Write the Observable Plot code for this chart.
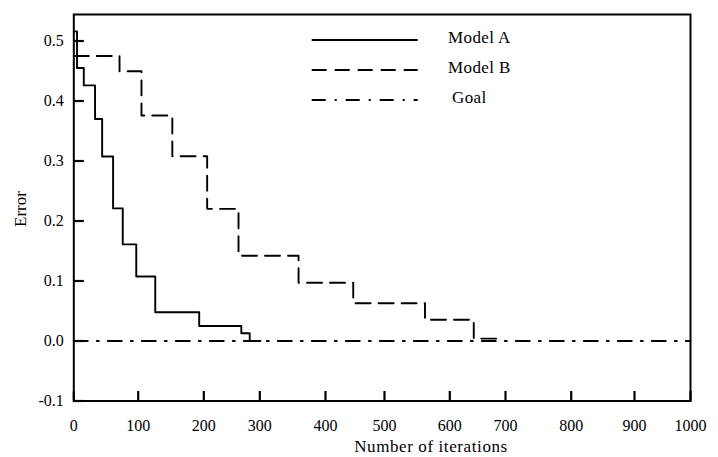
<!DOCTYPE html>
<html>
<head>
<meta charset="utf-8">
<script src="https://cdn.jsdelivr.net/npm/d3@7"></script>
<script src="https://cdn.jsdelivr.net/npm/@observablehq/plot@0.6"></script>
<style>
  html, body { margin: 0; padding: 0; background: #fff; }
  #chart { position: relative; width: 718px; height: 457px; }
</style>
</head>
<body>
<div id="chart"></div>
<script>
// ---------- Data ----------
const seriesNames = ["Model A", "Model B", "Goal"];
const modelAIter  = [0, 5, 15.5, 33, 44, 61, 76, 97, 126, 193, 267, 282, 301];
const modelAError = [0.516, 0.455, 0.426, 0.370, 0.3075, 0.221, 0.161, 0.1075, 0.048, 0.025, 0.013, 0.0, 0.0];
const modelBIter  = [0, 71, 105, 152, 206, 262, 359, 447, 562, 643, 687];
const modelBError = [0.475, 0.4497, 0.3758, 0.308, 0.2203, 0.142, 0.097, 0.063, 0.0353, 0.004, 0.004];
const goalIter    = [0, 1000];
const goalError   = [0, 0];
const xTicks = [0, 100, 200, 300, 400, 500, 600, 700, 800, 900, 1000];
const yTicks = [-0.1, 0.0, 0.1, 0.2, 0.3, 0.4, 0.5];
const xTitle = "Number of iterations";
const yTitle = "Error";

// ---------- Layout ----------
const W = 718, H = 457;
const mL = 73.3, mR = 28, mT = 14, mB = 56.5;
const TICK = 10;
// piecewise pixel positions of the x ticks, as in the original figure
const xRange = [73.3, 137.7, 203.3, 259.3, 325, 384, 449.3, 505, 570.7, 634, 690];
const yDomain = [-0.1, 0.5442];
const FONT = "'Liberation Serif', 'Times New Roman', Times, serif";

const rows = (xs, ys) => xs.map((x, i) => ({x, y: ys[i]}));
const dataA = rows(modelAIter, modelAError);
const dataB = rows(modelBIter, modelBError);
const dataG = rows(goalIter, goalError);

const styles = {
  "Model A": {dash: null},
  "Model B": {dash: "15,8"},
  "Goal": {dash: "14,9,2,9"}
};
const SW = 1.9;

// tick lengths expressed in data units (10 px)
const yPerPx = (yDomain[1] - yDomain[0]) / (H - mT - mB);
const xPerPx0 = (xTicks[1] - xTicks[0]) / (xRange[1] - xRange[0]);
// tick segments as two-point lines
const xTickSegs = xTicks.flatMap(t => [
  {g: "x" + t, x: t, y: yDomain[0]},
  {g: "x" + t, x: t, y: yDomain[0] + TICK * yPerPx}
]);
const yTickSegs = yTicks.flatMap(t => [
  {g: "y" + t, x: xTicks[0], y: t},
  {g: "y" + t, x: xTicks[0] + TICK * xPerPx0, y: t}
]);

const chart = Plot.plot({
  width: W, height: H,
  marginLeft: mL, marginRight: mR, marginTop: mT, marginBottom: mB,
  style: {fontFamily: FONT, fontSize: "16px", background: "#fff"},
  x: {type: "linear", domain: xTicks, range: xRange, label: null},
  y: {domain: yDomain, label: null},
  marks: [
    Plot.line(dataG, {x: "x", y: "y", stroke: "#000", strokeWidth: SW, strokeDasharray: styles["Goal"].dash}),
    Plot.line(dataB, {x: "x", y: "y", curve: "step-after", stroke: "#000", strokeWidth: SW, strokeDasharray: styles["Model B"].dash}),
    Plot.line(dataA, {x: "x", y: "y", curve: "step-after", stroke: "#000", strokeWidth: SW}),
    Plot.line(xTickSegs, {x: "x", y: "y", z: "g", stroke: "#000", strokeWidth: 2.2, strokeLinecap: "butt"}),
    Plot.line(yTickSegs, {x: "x", y: "y", z: "g", stroke: "#000", strokeWidth: 2.2, strokeLinecap: "butt"}),
    Plot.frame({stroke: "#000", strokeWidth: 2}),
    Plot.axisX(xTicks, {anchor: "bottom", tickSize: 0, tickPadding: 19, tickFormat: d => String(d), label: null, fontSize: 16, fill: "#000"}),
    Plot.axisY(yTicks, {anchor: "left", tickSize: 0, tickPadding: 10, tickFormat: d => d.toFixed(1), label: null, fontSize: 16, fill: "#000"})
  ]
});

document.getElementById("chart").appendChild(chart);

// ---------- Titles & legend ----------
const svg = d3.select(chart);
svg.append("text")
  .attr("transform", "translate(20,209) rotate(-90)")
  .attr("text-anchor", "middle")
  .attr("dominant-baseline", "central")
  .style("font-family", FONT).style("font-size", "17px").attr("fill", "#000")
  .text(yTitle);
svg.append("text")
  .attr("x", 431).attr("y", 452)
  .attr("text-anchor", "middle")
  .style("font-family", FONT).style("font-size", "17px").style("letter-spacing", "0.6px").attr("fill", "#000")
  .text(xTitle);

const legend = svg.append("g").attr("text-anchor", "start");
const legY = [40, 70, 100];
const legTextX = [448, 448, 452];
seriesNames.forEach((name, i) => {
  legend.append("line")
    .attr("x1", 311.7).attr("x2", 417.7)
    .attr("y1", legY[i]).attr("y2", legY[i])
    .attr("stroke", "#000").attr("stroke-width", SW)
    .attr("stroke-dasharray", styles[name].dash);
  legend.append("text")
    .attr("x", legTextX[i]).attr("y", legY[i] + 3)
    .attr("text-anchor", "start")
    .style("font-family", FONT).style("font-size", "17px").style("letter-spacing", "0.4px").attr("fill", "#000")
    .text(name);
});
</script>
</body>
</html>
